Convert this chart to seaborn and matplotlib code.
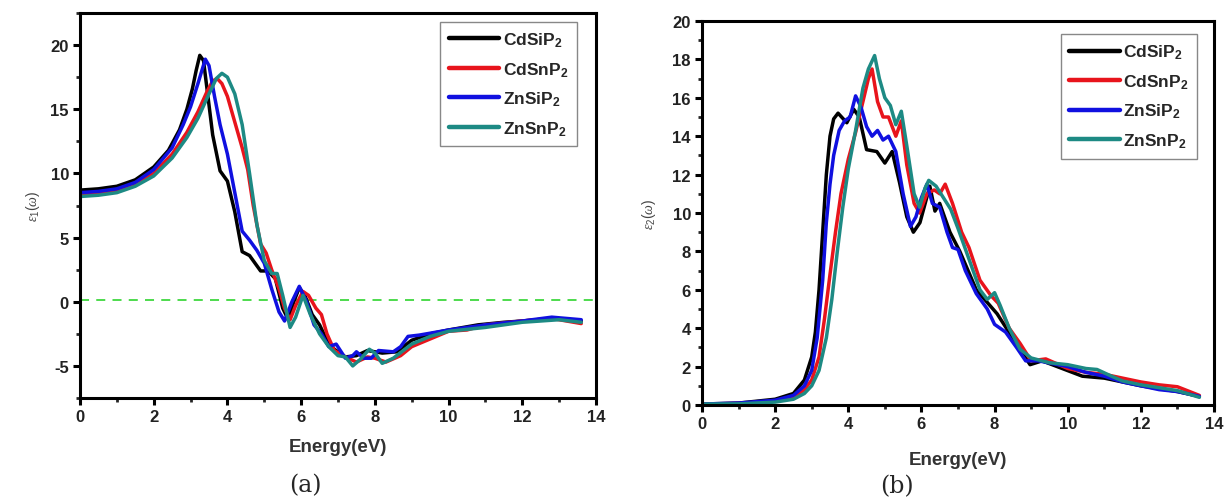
import numpy as np
import pandas as pd
import matplotlib
matplotlib.use("Agg")
import matplotlib.pyplot as plt
from matplotlib.lines import Line2D
from matplotlib.ticker import MultipleLocator
import seaborn as sns

# ---------------- series / legend ----------------
materials = ["CdSiP2", "CdSnP2", "ZnSiP2", "ZnSnP2"]
legend_labels = [r"$\mathbf{CdSiP_2}$", r"$\mathbf{CdSnP_2}$",
                 r"$\mathbf{ZnSiP_2}$", r"$\mathbf{ZnSnP_2}$"]
colors = ["#000000", "#e8141c", "#1010e0", "#1d8a84"]

# ---------------- data: panel (a) eps1 ----------------
e1_cdsip2_x = [0, 0.5, 1, 1.5, 2, 2.4, 2.7, 2.9, 3.05, 3.15, 3.25, 3.35, 3.45, 3.6, 3.8, 4.0, 4.2, 4.4, 4.6, 4.8,
               4.9, 5.1, 5.3, 5.5, 5.65, 5.8, 5.95, 6.1, 6.3, 6.5, 6.7, 6.9, 7.2, 7.5, 7.8, 8.2, 8.6, 9.0, 9.5, 10,
               10.8, 11.5, 12, 12.8, 13.6]
e1_cdsip2_y = [8.7, 8.8, 9.0, 9.5, 10.5, 11.8, 13.4, 15.0, 16.6, 18.0, 19.2, 18.8, 16.5, 13.0, 10.2, 9.4, 7.0, 3.9, 3.6, 2.8,
               2.4, 2.4, 1.8, -0.5, -1.4, 0.0, 1.1, 0.5, -1.0, -1.8, -3.0, -3.7, -4.3, -4.2, -3.8, -4.0, -3.9, -3.0, -2.5, -2.2,
               -1.8, -1.6, -1.5, -1.3, -1.5]

e1_cdsnp2_x = [0, 0.5, 1, 1.5, 2, 2.5, 2.9, 3.2, 3.45, 3.6, 3.72, 3.85, 4.0, 4.2, 4.4, 4.55, 4.7, 4.9, 5.05, 5.2,
               5.4, 5.55, 5.7, 5.85, 6.05, 6.2, 6.4, 6.55, 6.7, 6.9, 7.2, 7.5, 7.8, 8.0, 8.3, 8.7, 9.0, 9.5, 10, 10.5,
               11, 12, 12.8, 13.6]
e1_cdsnp2_y = [8.4, 8.5, 8.7, 9.2, 10.0, 11.5, 13.2, 14.8, 16.4, 17.2, 17.4, 17.0, 16.0, 14.0, 12.0, 10.3, 7.5, 4.5, 3.8, 2.5,
               1.0, -0.5, -1.4, -0.3, 0.8, 0.5, -0.5, -1.0, -2.5, -3.8, -4.3, -4.7, -4.3, -4.4, -4.7, -4.2, -3.5, -2.9, -2.3, -2.2,
               -1.8, -1.5, -1.3, -1.7]

e1_znsip2_x = [0, 0.5, 1, 1.5, 2, 2.5, 2.8, 3.0, 3.2, 3.4, 3.5, 3.65, 3.8, 4.0, 4.2, 4.4, 4.6, 4.8, 5.0, 5.2,
               5.4, 5.55, 5.75, 5.95, 6.15, 6.35, 6.55, 6.75, 6.95, 7.2, 7.4, 7.5, 7.7, 7.9, 8.1, 8.5, 8.7, 8.9, 9.2, 10,
               11, 12, 12.8, 13.6]
e1_znsip2_y = [8.5, 8.6, 8.8, 9.3, 10.3, 12.0, 13.8, 15.2, 17.0, 18.9, 18.4, 16.0, 13.8, 11.5, 8.5, 5.5, 4.8, 4.0, 3.0, 1.0,
               -0.8, -1.5, 0.0, 1.2, 0.0, -1.8, -2.5, -3.5, -3.3, -4.4, -4.2, -3.9, -4.4, -4.4, -3.8, -3.9, -3.5, -2.7, -2.6, -2.2,
               -1.8, -1.5, -1.2, -1.4]

e1_znsnp2_x = [0, 0.5, 1, 1.5, 2, 2.5, 2.9, 3.2, 3.5, 3.7, 3.85, 4.0, 4.2, 4.4, 4.6, 4.8, 5.0, 5.2, 5.35, 5.5,
               5.7, 5.85, 6.05, 6.25, 6.5, 6.75, 7.0, 7.2, 7.4, 7.6, 7.85, 8.0, 8.2, 8.5, 9.0, 9.5, 10, 11, 12, 13,
               13.6]
e1_znsnp2_y = [8.2, 8.3, 8.5, 9.0, 9.8, 11.2, 12.8, 14.3, 16.2, 17.4, 17.8, 17.5, 16.2, 13.8, 10.0, 6.0, 3.2, 2.2, 2.2, 0.5,
               -2.0, -1.2, 0.5, -1.0, -2.5, -3.5, -4.2, -4.3, -5.0, -4.5, -3.7, -4.0, -4.8, -4.4, -3.3, -2.7, -2.3, -2.0, -1.6, -1.4,
               -1.6]

# ---------------- data: panel (b) eps2 ----------------
e2_cdsip2_x = [0, 1, 2, 2.5, 2.8, 3.0, 3.1, 3.2, 3.3, 3.4, 3.5, 3.6, 3.72, 3.96, 4.15, 4.3, 4.5, 4.78, 5.0, 5.2,
               5.4, 5.6, 5.78, 5.96, 6.23, 6.37, 6.5, 6.78, 7.05, 7.5, 8.07, 8.34, 8.97, 9.3, 10.4, 10.7, 11, 12, 13, 13.6]
e2_cdsip2_y = [0.05, 0.1, 0.3, 0.6, 1.3, 2.5, 3.8, 6.0, 9.0, 12.0, 14.0, 14.9, 15.2, 14.7, 15.4, 15.0, 13.3, 13.2, 12.6, 13.2,
               11.6, 9.8, 9.0, 9.5, 11.4, 10.1, 10.5, 9.0, 8.0, 6.0, 4.75, 3.95, 2.1, 2.3, 1.5, 1.45, 1.4, 1.0, 0.7, 0.45]

e2_cdsnp2_x = [0, 1, 2, 2.5, 2.8, 3.0, 3.2, 3.35, 3.5, 3.65, 3.8, 4.0, 4.2, 4.4, 4.55, 4.65, 4.8, 4.95, 5.1, 5.3,
               5.45, 5.6, 5.8, 5.95, 6.15, 6.35, 6.5, 6.65, 6.85, 7.1, 7.3, 7.6, 7.9, 8.1, 8.4, 8.7, 9.0, 9.4, 10, 10.5,
               11, 12, 12.5, 13, 13.6]
e2_cdsnp2_y = [0.05, 0.08, 0.2, 0.4, 0.8, 1.3, 2.5, 4.5, 6.8, 9.0, 11.0, 12.8, 14.2, 15.8, 17.0, 17.5, 15.8, 15.0, 15.0, 14.0,
               14.8, 12.5, 10.5, 10.0, 11.0, 11.2, 11.0, 11.5, 10.5, 9.0, 8.2, 6.5, 5.7, 5.3, 4.0, 3.2, 2.3, 2.4, 1.9, 1.7,
               1.6, 1.2, 1.05, 0.95, 0.5]

e2_znsip2_x = [0, 1, 2, 2.5, 2.8, 3.0, 3.15, 3.3, 3.4, 3.5, 3.6, 3.75, 3.9, 4.05, 4.2, 4.35, 4.5, 4.65, 4.8, 4.95,
               5.1, 5.3, 5.5, 5.7, 5.85, 6.0, 6.15, 6.3, 6.5, 6.7, 6.85, 7.0, 7.2, 7.5, 7.8, 8.0, 8.3, 8.6, 8.85, 9.2,
               10, 10.5, 11, 11.5, 12, 12.5, 13, 13.6]
e2_znsip2_y = [0.05, 0.1, 0.25, 0.5, 1.0, 1.8, 3.5, 6.5, 9.5, 11.5, 13.0, 14.3, 14.8, 15.0, 16.1, 15.5, 14.5, 14.0, 14.3, 13.8,
               14.0, 13.2, 11.0, 9.3, 9.8, 10.8, 11.5, 10.5, 10.3, 9.0, 8.2, 8.1, 7.0, 5.8, 5.0, 4.2, 3.8, 3.0, 2.3, 2.3,
               2.0, 1.7, 1.5, 1.2, 1.0, 0.8, 0.7, 0.45]

e2_znsnp2_x = [0, 1, 2, 2.5, 2.8, 3.0, 3.2, 3.4, 3.55, 3.7, 3.85, 4.0, 4.2, 4.4, 4.55, 4.72, 4.85, 5.0, 5.15, 5.3,
               5.45, 5.6, 5.8, 5.95, 6.1, 6.2, 6.4, 6.6, 6.8, 7.0, 7.3, 7.6, 7.8, 8.0, 8.15, 8.4, 8.7, 9.0, 9.5, 10,
               10.5, 10.8, 11.2, 11.5, 12, 12.5, 13, 13.6]
e2_znsnp2_y = [0.05, 0.06, 0.15, 0.3, 0.6, 1.0, 1.8, 3.5, 5.5, 8.0, 10.3, 12.3, 14.3, 16.5, 17.5, 18.2, 17.0, 16.0, 15.6, 14.6,
               15.3, 13.5, 11.0, 10.3, 11.3, 11.7, 11.4, 10.8, 10.2, 9.2, 7.6, 6.0, 5.5, 5.85, 5.2, 4.0, 2.9, 2.45, 2.2, 2.1,
               1.9, 1.85, 1.5, 1.25, 1.05, 0.9, 0.75, 0.4]

xticks = [0, 2, 4, 6, 8, 10, 12, 14]
yticks_a = [-5, 0, 5, 10, 15, 20]
yticks_b = [0, 2, 4, 6, 8, 10, 12, 14, 16, 18, 20]


def long_df(xs, ys):
    frames = []
    for m, x, y in zip(materials, xs, ys):
        frames.append(pd.DataFrame({"Energy": x, "value": y, "material": m}))
    return pd.concat(frames, ignore_index=True)


df_a = long_df([e1_cdsip2_x, e1_cdsnp2_x, e1_znsip2_x, e1_znsnp2_x],
               [e1_cdsip2_y, e1_cdsnp2_y, e1_znsip2_y, e1_znsnp2_y])
df_b = long_df([e2_cdsip2_x, e2_cdsnp2_x, e2_znsip2_x, e2_znsnp2_x],
               [e2_cdsip2_y, e2_cdsnp2_y, e2_znsip2_y, e2_znsnp2_y])

sns.set_style("ticks")
plt.rcParams["font.family"] = ["Liberation Sans", "DejaVu Sans"]
plt.rcParams["axes.unicode_minus"] = False
plt.rcParams["mathtext.fontset"] = "custom"
plt.rcParams["mathtext.rm"] = "Liberation Sans"
plt.rcParams["mathtext.bf"] = "Liberation Sans:bold"
plt.rcParams["mathtext.it"] = "Liberation Serif:italic"

fig = plt.figure(figsize=(12.25, 5.02), dpi=100)
ax_a = fig.add_axes([80 / 1225, 1 - 399 / 502, 516 / 1225, 385 / 502])
ax_b = fig.add_axes([702 / 1225, 1 - 406 / 502, 512 / 1225, 384 / 502])

palette = dict(zip(materials, colors))

for ax, df in ((ax_a, df_a), (ax_b, df_b)):
    sns.lineplot(data=df, x="Energy", y="value", hue="material", hue_order=materials,
                 palette=palette, sort=False, estimator=None, linewidth=2.5,
                 ax=ax, legend=False)

ax_a.axhline(0.1, color="#3fd83f", linestyle=(0, (5, 4)), linewidth=1.3, zorder=1)

ax_a.set_xlim(0, 14)
ax_a.set_ylim(-7.5, 22.5)
ax_b.set_xlim(0, 14)
ax_b.set_ylim(0, 20)

ax_a.set_yticks(yticks_a)
ax_a.yaxis.set_minor_locator(MultipleLocator(2.5))
ax_b.set_yticks(yticks_b)
ax_b.yaxis.set_minor_locator(MultipleLocator(1))

for ax in (ax_a, ax_b):
    ax.set_xticks(xticks)
    ax.xaxis.set_minor_locator(MultipleLocator(1))
    for s in ax.spines.values():
        s.set_visible(True)
        s.set_linewidth(2.2)
        s.set_color("black")
    ax.tick_params(which="major", direction="out", length=5, width=2.2,
                   labelsize=12, pad=3, colors="black")
    ax.tick_params(which="minor", direction="out", length=3, width=2.0)
    for lab in ax.get_xticklabels() + ax.get_yticklabels():
        lab.set_fontweight("bold")
        lab.set_color("#222222")
    ax.set_xlabel("Energy(eV)", fontsize=13.5, fontweight="bold", color="#333333", labelpad=10)
    handles = [Line2D([0], [0], color=c, lw=3.2) for c in colors]
    leg = ax.legend(handles, legend_labels, fontsize=12.5, frameon=True, fancybox=False,
                    edgecolor="#888888", framealpha=1, handlelength=2.9, handletextpad=0.2,
                    labelspacing=0.62, borderpad=0.5, borderaxespad=0,
                    loc="upper right")
    leg.get_frame().set_linewidth(1.0)

ax_a.get_legend().set_bbox_to_anchor((0.963, 0.977))
ax_b.get_legend().set_bbox_to_anchor((0.967, 0.966))

ax_a.set_ylabel(r"$\varepsilon_{1}(\omega)$", fontsize=10, color="#444444", labelpad=6)
ax_b.set_ylabel(r"$\varepsilon_{2}(\omega)$", fontsize=10, color="#444444", labelpad=10)
ax_b.xaxis.labelpad = 14

fig.text(305 / 1225, 1 - 486 / 502, "(a)", fontsize=17, family="DejaVu Serif",
         ha="center", va="center")
fig.text(897 / 1225, 1 - 487 / 502, "(b)", fontsize=17, family="DejaVu Serif",
         ha="center", va="center")

fig.savefig("out.png", dpi=100)
